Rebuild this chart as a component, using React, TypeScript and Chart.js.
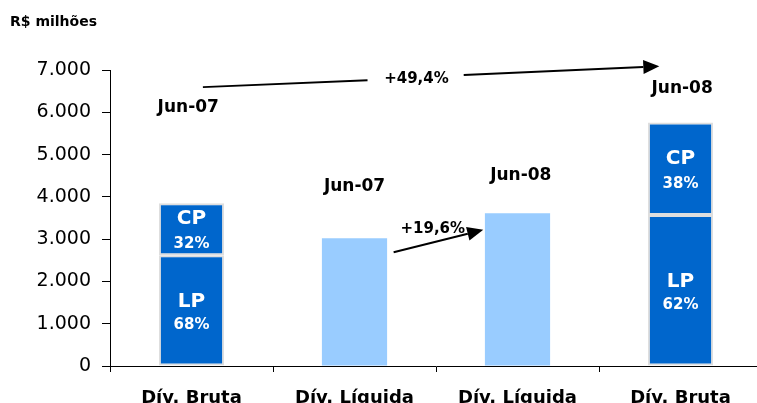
import React, { useEffect, useRef } from "react";
import { Chart, registerables } from "chart.js";

Chart.register(...registerables);

const categories = ["Dív. Bruta", "Dív. Líquida", "Dív. Líquida", "Dív. Bruta"];
const lpValues = [2620, null, null, 3570];
const cpValues = [1230, null, null, 2190];
const liquidaValues = [null, 3020, 3610, null];
const yTickLabels = ["0", "1.000", "2.000", "3.000", "4.000", "5.000", "6.000", "7.000"];
const lpPct = ["68%", "", "", "62%"];
const cpPct = ["32%", "", "", "38%"];

const FONT = "'DejaVu Sans', Verdana, sans-serif";
const DARK = "#0066CC";
const LIGHT = "#99CCFF";

const annotationPlugin = {
  id: "annotations",
  afterDraw(chart: any) {
    const ctx = chart.ctx;
    const xs = chart.scales.x;
    const ys = chart.scales.y;
    const cw = (xs.right - xs.left) / categories.length;
    const X = (c: number) => xs.left + (c + 0.5) * cw;
    const Y = (v: number) => ys.getPixelForValue(v);
    ctx.save();
    // title
    ctx.fillStyle = "#000";
    ctx.font = `bold 14px ${FONT}`;
    ctx.textAlign = "left";
    ctx.textBaseline = "middle";
    ctx.fillText("R$ milhões", 10, 22);

    // in-bar labels
    ctx.fillStyle = "#fff";
    ctx.textAlign = "center";
    categories.forEach((_, i) => {
      const lp = lpValues[i];
      const cp = cpValues[i];
      if (lp == null || cp == null) return;
      const x = X(i);
      const lpMid = Y(lp / 2);
      const cpMid = Y(lp + cp / 2);
      ctx.font = `bold 20px ${FONT}`;
      ctx.fillText("CP", x, cpMid - 10);
      ctx.fillText("LP", x, lpMid - 9);
      ctx.font = `bold 15px ${FONT}`;
      ctx.fillText(cpPct[i], x, cpMid + 15);
      ctx.fillText(lpPct[i], x, lpMid + 15);
    });

    // date labels
    ctx.fillStyle = "#000";
    ctx.font = `bold 17px ${FONT}`;
    ctx.fillText("Jun-07", X(-0.02), Y(6120));
    ctx.fillText("Jun-08", X(3.01), Y(6570));
    ctx.fillText("Jun-07", X(1.0), Y(4250));
    ctx.fillText("Jun-08", X(2.02), Y(4500));

    ctx.font = `bold 15px ${FONT}`;
    ctx.fillText("+49,4%", X(1.38), Y(6775));
    ctx.fillText("+19,6%", X(1.48), Y(3245));

    const line = (x1: number, y1: number, x2: number, y2: number) => {
      ctx.beginPath();
      ctx.moveTo(x1, y1);
      ctx.lineTo(x2, y2);
      ctx.stroke();
    };
    const arrow = (x1: number, y1: number, x2: number, y2: number) => {
      const ang = Math.atan2(y2 - y1, x2 - x1);
      const len = 16;
      const hw = 7;
      const bx = x2 - len * Math.cos(ang);
      const by = y2 - len * Math.sin(ang);
      line(x1, y1, bx, by);
      ctx.beginPath();
      ctx.moveTo(x2, y2);
      ctx.lineTo(bx + hw * Math.sin(ang), by - hw * Math.cos(ang));
      ctx.lineTo(bx - hw * Math.sin(ang), by + hw * Math.cos(ang));
      ctx.closePath();
      ctx.fill();
    };
    ctx.strokeStyle = "#000";
    ctx.lineWidth = 2;
    line(X(0.07), Y(6595), X(1.08), Y(6760));
    arrow(X(1.67), Y(6880), X(2.87), Y(7090));
    arrow(X(1.24), Y(2690), X(1.79), Y(3220));
    ctx.restore();
  },
};

export default function App() {
  const ref = useRef<HTMLCanvasElement>(null);
  useEffect(() => {
    document.body.style.margin = "0";
    document.body.style.overflow = "hidden";
    const chart = new Chart(ref.current!, {
      type: "bar",
      data: {
        labels: categories,
        datasets: [
          {
            label: "LP",
            data: lpValues as any,
            backgroundColor: DARK,
            borderColor: "#dedede",
            borderWidth: 2,
            borderSkipped: false,
          },
          {
            label: "CP",
            data: cpValues as any,
            backgroundColor: DARK,
            borderColor: "#dedede",
            borderWidth: 2,
            borderSkipped: false,
          },
          {
            label: "Líquida",
            data: liquidaValues as any,
            backgroundColor: LIGHT,
            borderWidth: 0,
          },
        ],
      },
      options: {
        animation: false,
        responsive: false,
        maintainAspectRatio: false,
        layout: { padding: { top: 70, left: 0, right: 0, bottom: 0 } },
        datasets: { bar: { categoryPercentage: 1, barPercentage: 0.4 } },
        plugins: { legend: { display: false }, tooltip: { enabled: false }, title: { display: false } },
        scales: {
          x: {
            stacked: true,
            grid: { display: true, drawOnChartArea: false, tickLength: 6, color: "#000", offset: true },
            border: { display: true, color: "#000", width: 1 },
            ticks: { color: "#000", font: { family: FONT, size: 18, weight: "bold" }, padding: 16, maxRotation: 0 },
            afterFit: (s: any) => { s.height = 37; },
          },
          y: {
            stacked: true,
            min: 0,
            max: 7000,
            grid: { display: true, drawOnChartArea: false, tickLength: 8, color: "#000" },
            border: { display: true, color: "#000", width: 1 },
            ticks: {
              stepSize: 1000,
              color: "#000",
              padding: 11,
              font: { family: FONT, size: 19 },
              callback: (_v: any, i: number) => yTickLabels[i],
            },
            afterFit: (s: any) => { s.width = 110; },
          },
        },
      },
      plugins: [annotationPlugin],
    });
    return () => chart.destroy();
  }, []);
  return (
    <div style={{ position: "fixed", left: 0, top: 0, width: 757, height: 403, overflow: "hidden", background: "#fff" }}>
      <canvas ref={ref} width={762} height={403} style={{ width: 762, height: 403 }} />
    </div>
  );
}
